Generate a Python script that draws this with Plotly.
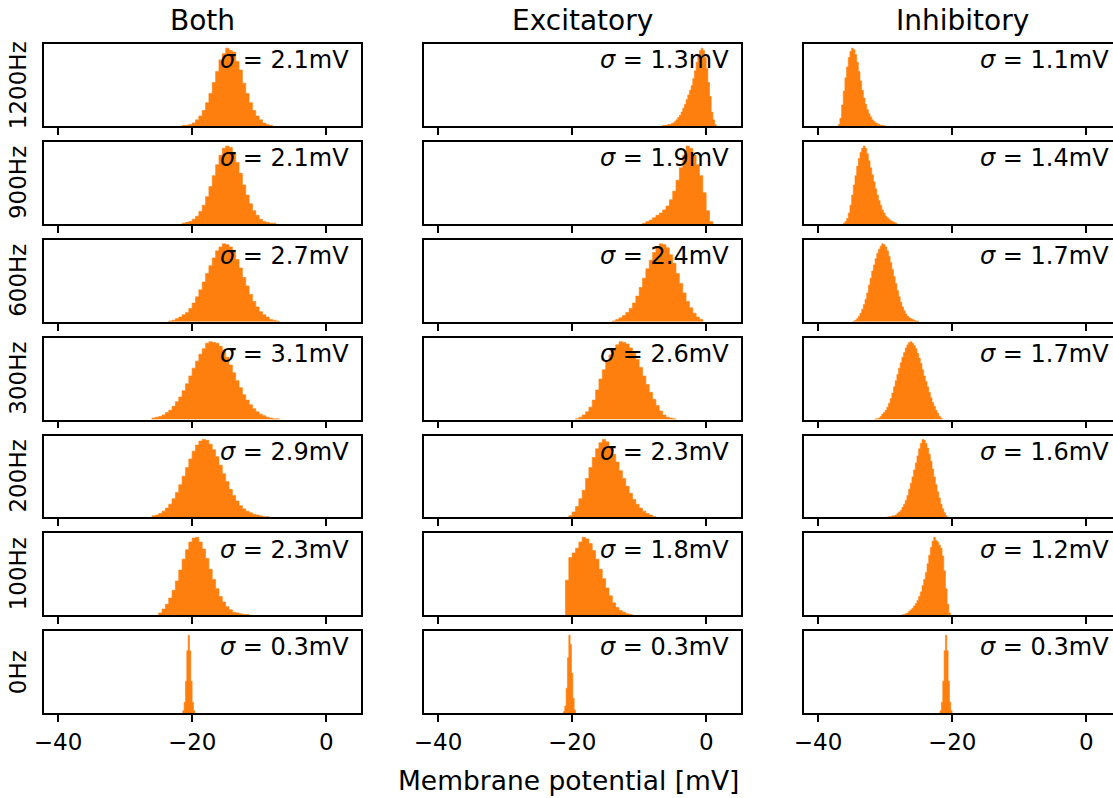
import plotly.graph_objects as go

# ---------------------------------------------------------------------------
# Membrane-potential histograms per input rate (rows) and input type (columns).
# Counts are normalised so the tallest bin of every panel is 100.
# ---------------------------------------------------------------------------
rates = ["1200Hz", "900Hz", "600Hz", "300Hz", "200Hz", "100Hz", "0Hz"]
columns = ["Both", "Excitatory", "Inhibitory"]

sigma_both = [2.1, 2.1, 2.7, 3.1, 2.9, 2.3, 0.3]
sigma_exc = [1.3, 1.9, 2.4, 2.6, 2.3, 1.8, 0.3]
sigma_inh = [1.1, 1.4, 1.7, 1.7, 1.6, 1.2, 0.3]

x_ticks = [-40, -20, 0]

# --- Both ----------------------------------------------------------------
both_first_edge = [-21.5, -21.5, -23.5, -26.0, -26.0, -25.0, -21.4]
both_bin_width = [0.5, 0.5, 0.5, 0.5, 0.5, 0.5, 0.2]
both_1200hz = [1, 1, 2, 4, 8, 13, 20, 30, 42, 56, 70, 85, 93, 100, 97, 95, 83, 72,
               55, 42, 30, 20, 13, 8, 4, 2, 1]
both_900hz = [1, 2, 3, 6, 10, 16, 24, 35, 48, 62, 76, 88, 97, 100, 98, 90, 79, 65,
              50, 37, 26, 17, 11, 6, 3, 2, 1, 1]
both_600hz = [1, 2, 4, 6, 9, 12, 17, 24, 32, 41, 51, 62, 72, 82, 91, 96, 100,
              99, 96, 89, 80, 69, 57, 46, 35, 26, 19, 13, 9, 6, 3, 2, 1]
both_300hz = [2, 3, 4, 6, 9, 12, 17, 23, 29, 37, 46, 56, 66, 75, 84, 91, 98, 100,
              99, 98, 94, 88, 80, 70, 60, 50, 41, 32, 25, 19, 14, 10, 7, 5, 3, 2, 1, 1]
both_200hz = [2, 3, 5, 8, 12, 17, 24, 32, 42, 53, 64, 75, 85, 93, 98, 100,
              99, 94, 87, 78, 67, 56, 46, 36, 28, 21, 15, 11, 8, 6, 4, 3, 2, 1, 1]
both_100hz = [3, 8, 14, 22, 32, 44, 58, 72, 84, 94, 99, 100, 94, 85, 73, 59, 46, 34,
              24, 17, 11, 7, 4, 3, 2, 1, 1]
both_0hz = [3, 14, 41, 80, 100, 80, 41, 14, 3]

# --- Excitatory ------------------------------------------------------------
exc_first_edge = [-6.5, -9.5, -14.0, -19.5, -20.5, -21.0, -21.3]
exc_bin_width = [0.25, 0.5, 0.5, 0.5, 0.5, 0.5, 0.2]
exc_1200hz = [1, 1, 1, 2, 2, 3, 4, 6, 8, 11, 14, 18, 23, 28, 34, 40, 46, 52, 61, 71,
              82, 91, 97, 100, 97, 88, 74, 56, 38, 18, 8, 2]
exc_900hz = [1, 3, 5, 8, 11, 14, 18, 23, 31, 42, 56, 72, 88, 100, 97, 88, 76, 62,
             40, 17, 3]
exc_600hz = [1, 3, 5, 8, 12, 17, 24, 33, 44, 56, 68, 79, 89, 96, 100, 99, 95, 86,
             75, 62, 49, 37, 26, 18, 11, 6, 3]
exc_300hz = [1, 3, 6, 10, 16, 25, 38, 52, 64, 74, 83, 90, 96, 100, 99, 97, 92, 85,
             77, 67, 56, 45, 35, 26, 18, 11, 6, 3, 2, 1]
exc_200hz = [2, 7, 14, 24, 35, 50, 64, 77, 88, 96, 100, 97, 90, 81, 71, 60, 50, 40,
             31, 23, 17, 12, 8, 5, 3, 1]
exc_100hz = [45, 74, 80, 86, 94, 100, 98, 92, 83, 72, 59, 47, 35, 25, 16, 10, 6, 4,
             2, 1]
exc_0hz = [2, 9, 32, 71, 100, 88, 51, 19, 4]

# --- Inhibitory ------------------------------------------------------------
inh_first_edge = [-37.0, -36.25, -34.75, -31.5, -29.75, -27.5, -21.8]
inh_bin_width = [0.25, 0.25, 0.25, 0.25, 0.25, 0.25, 0.2]
inh_1200hz = [2, 10, 27, 45, 62, 76, 88, 96, 100, 98, 92, 82, 70, 58, 46, 36, 28,
              21, 16, 12, 8, 6, 4, 3, 2, 1, 1, 0.5]
inh_900hz = [1, 3, 7, 14, 24, 37, 50, 62, 74, 84, 92, 97, 100, 97, 90, 81, 72, 63,
             54, 45, 37, 30, 24, 18, 14, 10, 8, 6, 4, 3, 2, 1]
inh_600hz = [1, 2, 4, 7, 11, 16, 22, 29, 37, 47, 56, 65, 73, 81, 88, 93, 97, 100,
             99, 96, 91, 84, 76, 67, 58, 49, 40, 32, 25, 19, 14, 10, 7, 5, 4, 3, 2,
             1, 1]
inh_300hz = [1, 1, 2, 4, 7, 9, 12, 16, 21, 27, 34, 42, 50, 58, 66, 73, 80, 86, 92,
             96, 99, 100, 98, 95, 91, 85, 79, 72, 64, 56, 49, 42, 35, 28, 22, 17,
             12, 8, 4, 2]
inh_200hz = [0.5, 1, 1, 2, 2, 3, 5, 7, 9, 13, 17, 22, 28, 36, 44, 52, 61, 70, 79,
             88, 95, 100, 99, 95, 89, 81, 72, 62, 52, 42, 33, 25, 17, 11, 6, 2]
inh_100hz = [0.5, 1, 2, 3, 5, 7, 9, 12, 15, 19, 24, 30, 38, 46, 55, 66, 77, 87, 95,
             100, 96, 94, 90, 86, 76, 57, 34, 14, 3]
inh_0hz = [3, 14, 41, 80, 100, 80, 41, 14, 3]

counts = [
    [both_1200hz, both_900hz, both_600hz, both_300hz, both_200hz, both_100hz, both_0hz],
    [exc_1200hz, exc_900hz, exc_600hz, exc_300hz, exc_200hz, exc_100hz, exc_0hz],
    [inh_1200hz, inh_900hz, inh_600hz, inh_300hz, inh_200hz, inh_100hz, inh_0hz],
]
first_edges = [both_first_edge, exc_first_edge, inh_first_edge]
bin_widths = [both_bin_width, exc_bin_width, inh_bin_width]
sigmas = [sigma_both, sigma_exc, sigma_inh]

# ---------------------------------------------------------------------------
# Layout geometry (pixels)
# ---------------------------------------------------------------------------
W, H = 1113, 798
ORANGE = "#ff7f0e"
FONT = "DejaVu Sans"
LINE_W = 1.8

col_left = [43.7, 423.7, 803.7]
col_w = 317.0
row_top0, row_step, row_h = 44.3, 97.83, 81.8
x_lo, x_hi = -42.15, 5.15
px_per_mv = col_w / (x_hi - x_lo)

fig = go.Figure()
layout_axes = {}
annotations = []


def step_outline(edge, width, values):
    """Bin edges and heights for a filled 'hv' step histogram."""
    xs = [edge + width * i for i in range(len(values) + 1)]
    ys = list(values) + [0]
    return [edge] + xs, [0] + ys


for c in range(3):
    left = col_left[c]
    right = min(left + col_w, W)
    x_range = [x_lo, x_lo + (right - left) / px_per_mv]
    for r in range(7):
        idx = c * 7 + r + 1
        xa = "x" if idx == 1 else f"x{idx}"
        ya = "y" if idx == 1 else f"y{idx}"
        top = row_top0 + r * row_step
        bottom = top + row_h

        xs, ys = step_outline(first_edges[c][r], bin_widths[c][r], counts[c][r])
        fig.add_trace(go.Scatter(
            x=xs, y=ys, mode="lines", line=dict(shape="hv", color=ORANGE, width=0.6),
            fill="tozeroy", fillcolor=ORANGE,
            xaxis=xa, yaxis=ya, showlegend=False, hoverinfo="skip",
        ))

        layout_axes["xaxis" if idx == 1 else f"xaxis{idx}"] = dict(
            domain=[left / W, right / W], range=x_range, anchor=ya,
            tickmode="array", tickvals=x_ticks,
            ticks="outside", ticklen=7, tickwidth=LINE_W, tickcolor="black",
            showticklabels=(r == 6),
            tickfont=dict(family=FONT, size=23, color="black"),
            showline=True, mirror=True, linecolor="black", linewidth=LINE_W,
            showgrid=False, zeroline=False, fixedrange=True, automargin=False,
        )
        layout_axes["yaxis" if idx == 1 else f"yaxis{idx}"] = dict(
            domain=[1 - bottom / H, 1 - top / H], range=[0, 105], anchor=xa,
            showline=True, mirror=(c < 2), linecolor="black", linewidth=LINE_W,
            ticks="", showticklabels=False,
            showgrid=False, zeroline=False, fixedrange=True, automargin=False,
        )

        annotations.append(dict(
            x=(left + col_w - 10.0) / W, y=1 - (top + 16.2) / H,
            xref="paper", yref="paper", xanchor="right", yanchor="middle",
            text=f"<i>σ</i> = {sigmas[c][r]:.1f}mV", showarrow=False,
            font=dict(family=FONT, size=24, color="black"),
        ))

    annotations.append(dict(
        x=(left + col_w / 2) / W, y=1 - 20.0 / H,
        xref="paper", yref="paper", xanchor="center", yanchor="middle",
        text=columns[c], showarrow=False,
        font=dict(family=FONT, size=28, color="black"),
    ))

for r in range(7):
    top = row_top0 + r * row_step
    annotations.append(dict(
        x=18.0 / W, y=1 - (top + row_h / 2) / H,
        xref="paper", yref="paper", xanchor="center", yanchor="middle",
        text=rates[r], textangle=-90, showarrow=False,
        font=dict(family=FONT, size=23, color="black"),
    ))

annotations.append(dict(
    x=568 / W, y=1 - 780.0 / H,
    xref="paper", yref="paper", xanchor="center", yanchor="middle",
    text="Membrane potential [mV]", showarrow=False,
    font=dict(family=FONT, size=26.5, color="black"),
))

fig.update_layout(
    template="none",
    width=W, height=H,
    margin=dict(l=0, r=0, t=0, b=0, autoexpand=False),
    paper_bgcolor="white", plot_bgcolor="white",
    font=dict(family=FONT, color="black"),
    annotations=annotations,
    **layout_axes,
)

fig.write_html("out.html")
